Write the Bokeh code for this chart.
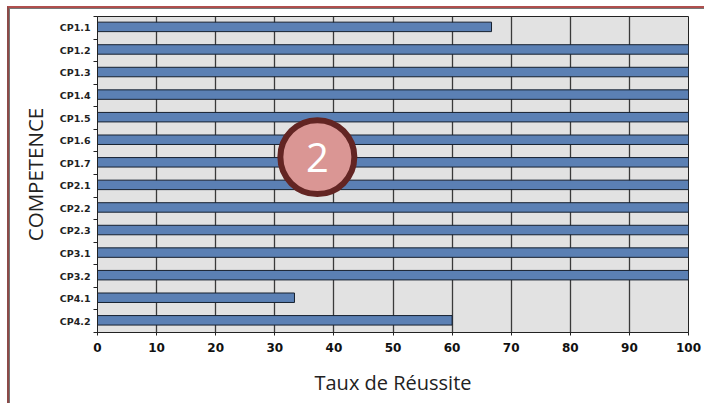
from bokeh.plotting import figure
from bokeh.embed import file_html
from bokeh.resources import INLINE
from bokeh.models import FixedTicker, Range1d, InlineStyleSheet
from bokeh.core.properties import value

competences = ["CP1.1", "CP1.2", "CP1.3", "CP1.4", "CP1.5", "CP1.6", "CP1.7",
               "CP2.1", "CP2.2", "CP2.3", "CP3.1", "CP3.2", "CP4.1", "CP4.2"]
taux = [66.67, 100, 100, 100, 100, 100, 100, 100, 100, 100, 100, 100, 33.33, 60]
x_ticks = [0, 10, 20, 30, 40, 50, 60, 70, 80, 90, 100]
callout_text = "2"

W, H = 704, 403
p = figure(width=W, height=H, output_backend="svg", toolbar_location=None,
           x_range=Range1d(0, 100), y_range=Range1d(len(competences) - 0.5, -0.5),
           min_border_left=97, min_border_right=16, min_border_top=16, min_border_bottom=71,
           margin=(0, 0, 0, 0))
p.background_fill_color = "#e2e2e2"
p.border_fill_color = "#ffffff"
p.outline_line_color = "#222222"
p.outline_line_width = 1

# axes
xa = p.xaxis[0]
xa.ticker = FixedTicker(ticks=x_ticks)
xa.axis_label = "Taux de Réussite"
xa.axis_label_text_font = "Open Sans"
xa.axis_label_text_font_style = "normal"
xa.axis_label_text_font_size = "20px"
xa.axis_label_text_color = "#222222"
xa.axis_label_standoff = 14
xa.major_label_text_font = "DejaVu Sans"
xa.major_label_text_font_style = "bold"
xa.major_label_text_font_size = "12px"
xa.major_label_text_color = "#111111"
xa.major_label_standoff = 7
xa.major_tick_in = 0
xa.major_tick_out = 3
xa.minor_tick_line_color = None
xa.axis_line_color = "#222222"
xa.major_tick_line_color = "#222222"

ya = p.yaxis[0]
ya.ticker = FixedTicker(ticks=list(range(len(competences))),
                        minor_ticks=[i - 0.5 for i in range(len(competences) + 1)])
ya.major_label_overrides = {i: c for i, c in enumerate(competences)}
ya.axis_label = "COMPETENCE"
ya.axis_label_text_font = "Open Sans"
ya.axis_label_text_font_style = "normal"
ya.axis_label_text_font_size = "20.5px"
ya.axis_label_text_color = "#222222"
ya.axis_label_standoff = 8
ya.major_label_text_font = "DejaVu Sans"
ya.major_label_text_font_style = "bold"
ya.major_label_text_font_size = "9.5px"
ya.major_label_text_color = "#222222"
ya.major_label_standoff = 3
ya.major_tick_line_color = None
ya.major_tick_in = 0
ya.major_tick_out = 0
ya.minor_tick_in = 0
ya.minor_tick_out = 4
ya.minor_tick_line_color = "#222222"
ya.axis_line_color = "#222222"

p.xgrid.ticker = FixedTicker(ticks=x_ticks)
p.xgrid.grid_line_color = "#3a3a3a"
p.xgrid.grid_line_width = 1.3
p.ygrid.grid_line_color = None

# bars (sitting slightly above the middle of each band, as in the reference)
p.hbar(y=[i - 0.04 for i in range(len(competences))], right=taux, left=0, height=0.42,
       fill_color="#5b80b4", line_color="#16202f", line_width=1)

# callout
cx, cy = 37.2, 5.73
p.scatter([cx], [cy], size=74, marker="circle", fill_color="#da9694",
          line_color="#632523", line_width=6)
p.text([cx], [cy], text=[callout_text], text_color="#ffffff", text_align="center",
       text_baseline="middle", text_font=value("Open Sans"), text_font_size="40px")

# outer frame of the source screenshot, drawn over the figure's host element
p.stylesheets = [InlineStyleSheet(css="""
:host { position: relative; }
:host::after { content: ""; position: absolute; left: 7px; top: 6px; right: 0; bottom: 0;
  border-top: 2px solid #b04f4d; border-left: 2px solid #8c4a48;
  box-shadow: inset 1px 1px 0 #777777; pointer-events: none; z-index: 10; }
""")]

open("out.html", "w").write(file_html(p, INLINE))
